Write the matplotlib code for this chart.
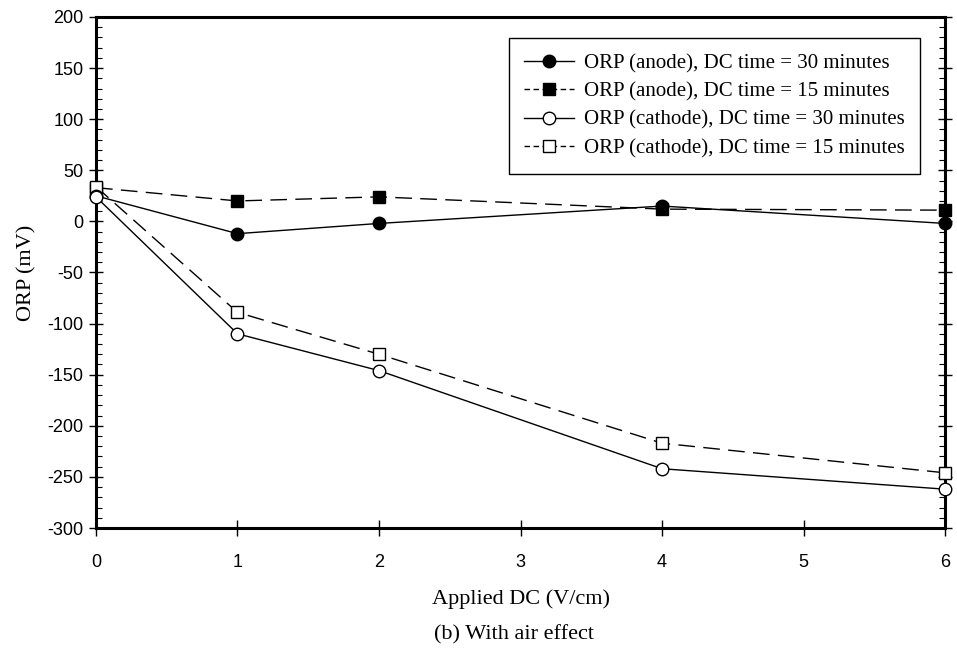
import matplotlib
matplotlib.use("Agg")
import matplotlib.pyplot as plt
from matplotlib.lines import Line2D
from matplotlib.ticker import MultipleLocator

# Applied DC (V/cm)
x = [0, 1, 2, 4, 6]

anode_30 = [25, -12, -2, 15, -2]
anode_15 = [33, 20, 24, 12, 11]
cathode_30 = [24, -110, -146, -242, -262]
cathode_15 = [34, -89, -130, -217, -246]

labels = [
    "ORP (anode), DC time = 30 minutes",
    "ORP (anode), DC time = 15 minutes",
    "ORP (cathode), DC time = 30 minutes",
    "ORP (cathode), DC time = 15 minutes",
]

SERIF = "Liberation Serif"
SANS = "Liberation Sans"

plt.rcParams["axes.unicode_minus"] = False

fig = plt.figure(figsize=(9.57, 6.53), dpi=100)
ax = fig.add_axes([0.1003, 0.1914, 0.8872, 0.7826])

dash = (0, (12, 6))
styles = [("-", "o", "black"), (dash, "s", "black"),
          ("-", "o", "white"), (dash, "s", "white")]
series = [anode_30, anode_15, cathode_30, cathode_15]

common = dict(color="black", linewidth=1.0, markersize=9, clip_on=False,
              markeredgecolor="black", markeredgewidth=1.0)
handles = []
for ys, (ls, mk, fc), lab in zip(series, styles, labels):
    ax.plot(x, ys, linestyle=ls, marker=mk, markerfacecolor=fc,
            zorder=4 if mk == "o" else 3, **common)
    # legend swatch: short dashes like the original
    hls = "-" if ls == "-" else (0, (4, 2.5))
    handles.append(Line2D([], [], linestyle=hls, marker=mk, markerfacecolor=fc,
                          color="black", linewidth=1.0, markersize=9,
                          markeredgecolor="black", label=lab))

ax.set_xlim(0, 6)
ax.set_ylim(-300, 200)
ax.xaxis.set_major_locator(MultipleLocator(1))
ax.yaxis.set_major_locator(MultipleLocator(50))
ax.yaxis.set_minor_locator(MultipleLocator(10))

for s in ax.spines.values():
    s.set_linewidth(2.2)

ax.tick_params(axis="y", which="major", direction="inout", length=10, width=1,
               left=True, right=True, labelsize=13, pad=4)
ax.tick_params(axis="y", which="minor", direction="in", length=4, width=0.8,
               left=True, right=True)
ax.tick_params(axis="x", which="major", direction="inout", length=12, width=1,
               bottom=True, top=False, labelsize=13, pad=13)
for lab in ax.get_xticklabels() + ax.get_yticklabels():
    lab.set_family(SANS)

ax.set_xlabel("Applied DC (V/cm)", family=SERIF, fontsize=16, labelpad=13)
ax.set_ylabel("ORP (mV)", family=SERIF, fontsize=16, labelpad=8)

leg = ax.legend(handles=handles, loc="upper right",
                bbox_to_anchor=(0.9706, 0.959),
                prop={"family": SERIF, "size": 15}, frameon=True,
                fancybox=False, edgecolor="black", framealpha=1,
                handlelength=2.4, handletextpad=0.45, labelspacing=0.42,
                borderpad=0.75, borderaxespad=0)
leg.get_frame().set_linewidth(1.0)

fig.text(0.5376, 0.028, "(b) With air effect", family=SERIF, fontsize=16,
         ha="center", va="center")

fig.savefig("out.png", dpi=100)
